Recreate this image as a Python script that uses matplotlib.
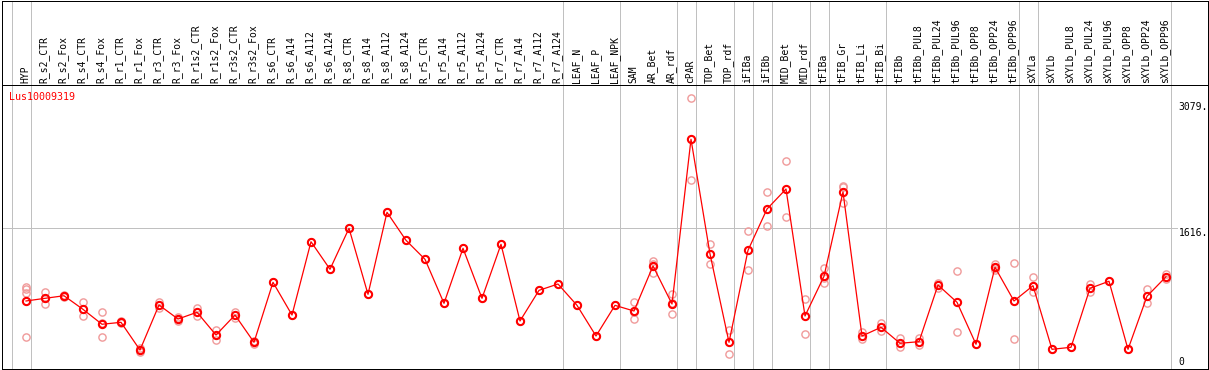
import matplotlib
matplotlib.use('Agg')
import matplotlib.pyplot as plt

categories = ["HYP", "R_s2_CTR", "R_s2_Fox", "R_s4_CTR", "R_s4_Fox", "R_r1_CTR", "R_r1_Fox",
              "R_r3_CTR", "R_r3_Fox", "R_r1s2_CTR", "R_r1s2_Fox", "R_r3s2_CTR", "R_r3s2_Fox",
              "R_s6_CTR", "R_s6_A14", "R_s6_A112", "R_s6_A124", "R_s8_CTR", "R_s8_A14",
              "R_s8_A112", "R_s8_A124", "R_r5_CTR", "R_r5_A14", "R_r5_A112", "R_r5_A124",
              "R_r7_CTR", "R_r7_A14", "R_r7_A112", "R_r7_A124", "LEAF_N", "LEAF_P", "LEAF_NPK",
              "SAM", "AR_Bet", "AR_rdf", "cPAR", "TOP_Bet", "TOP_rdf", "iFIBa", "iFIBb",
              "MID_Bet", "MID_rdf", "tFIBa", "tFIB_Gr", "tFIB_Li", "tFIB_Bi", "tFIBb",
              "tFIBb_PUL8", "tFIBb_PUL24", "tFIBb_PUL96", "tFIBb_OPP8", "tFIBb_OPP24",
              "tFIBb_OPP96", "sXYLa", "sXYLb", "sXYLb_PUL8", "sXYLb_PUL24", "sXYLb_PUL96",
              "sXYLb_OPP8", "sXYLb_OPP24", "sXYLb_OPP96"]

means = [798, 828, 857, 704, 536, 558, 246, 753, 595, 671, 415, 640, 333,
         1008, 640, 1465, 1155, 1616, 873, 1796, 1481, 1267, 772, 1391, 828,
         1436, 573, 918, 989, 749, 404, 749, 685, 1192, 764, 2618, 1327, 333,
         1368, 1833, 2058, 629, 1076, 2025, 404, 502, 322, 340, 978, 783, 311,
         1177, 798, 970, 254, 277, 941, 1020, 254, 851, 1071]

replicates = [[959, 930, 891, 389], [896, 828, 761], [866, 848], [783, 632],
              [671, 548, 389], [570, 546], [266, 227], [790, 716], [621, 570],
              [716, 629], [471, 359], [671, 612], [351, 314],
              [1008], [640], [1465], [1155], [1616], [873], [1796], [1481],
              [1267], [772], [1391], [828], [1436], [573], [918], [989],
              [749], [404], [749],
              [783, 678, 595], [1248, 1212, 1116], [873, 771, 648], [3079, 2160],
              [1439, 1214], [471, 198], [1582, 1143], [2021, 1642], [2373, 1743],
              [820, 423], [1173, 1059, 997], [2092, 2079, 1904], [446, 367],
              [547, 464], [378, 284], [385, 303], [997, 941], [1135, 446], [311],
              [1214, 1166, 1150], [1226, 367], [1068, 970, 899], [254], [277],
              [993, 896], [1020], [254], [930, 779], [1102, 1045]]

group_ends = [-1, 0, 28, 31, 34, 35, 37, 38, 39, 41, 42, 45, 52, 53, 60]
gene = "Lus10009319"
ytick_text = ["3079.", "1616.", "0"]
grid_val = 1616

W, H = 1209, 370
fig = plt.figure(figsize=(W / 100, H / 100), dpi=100)
fig.patch.set_facecolor('white')

def fx(p):
    return p / W

def fy(p):
    return 1 - p / H

X0, DX = 26.0, 19.0
x_left, x_right = 1.5, 1208.0
xl = ((x_left - X0) / DX, (x_right - X0) / DX)

# value scale: 153 at px 358.3, 3079 at px 98.3
vpp = (3079 - 153) / 260.0
def val_at(py):
    return 153 + (358.3 - py) * vpp

ax = fig.add_axes([fx(x_left), fy(369), fx(x_right) - fx(x_left), fy(85) - fy(369)])
hx = fig.add_axes([fx(x_left), fy(85), fx(x_right) - fx(x_left), fy(0.5) - fy(85)])

gray = '#c0c0c0'
lw1 = 0.72
for a in (ax, hx):
    a.set_xlim(*xl)
    a.set_xticks([])
    a.set_yticks([])
    for s in a.spines.values():
        s.set_color('black')
        s.set_linewidth(lw1)
    for b in group_ends:
        a.axvline(b + 0.25, color=gray, lw=lw1, zorder=0)

ax.set_ylim(val_at(369), val_at(85))
hx.set_ylim(85, 0.5)

ax.axhline(grid_val, xmin=0, xmax=(1177 - x_left) / (x_right - x_left), color=gray, lw=lw1, zorder=0)

xs = list(range(len(categories)))
for i, r in enumerate(replicates):
    ax.plot([i] * len(r), r, 'o', mfc='none', mec='#f09a9a', ms=5.2, mew=1.0, zorder=2)
ax.plot(xs, means, '-', color='red', lw=0.9, zorder=3)
ax.plot(xs, means, 'o', mfc='none', mec='#ff0000', ms=5.2, mew=1.5, zorder=4)

mono = 'DejaVu Sans Mono'
for i, c in enumerate(categories):
    hx.text(i - 0.05, 83, c, rotation=90, ha='center', va='bottom', family=mono, size=7)

fig.text(fx(9), fy(97), gene, color='red', ha='left', va='center', family=mono, size=7.2)
for py, t in zip([106.7, 232.7, 361.7], ytick_text):
    fig.text(fx(1178.5), fy(py), t, ha='left', va='center', family=mono, size=7)

fig.savefig('out.png', dpi=100, facecolor='white')
